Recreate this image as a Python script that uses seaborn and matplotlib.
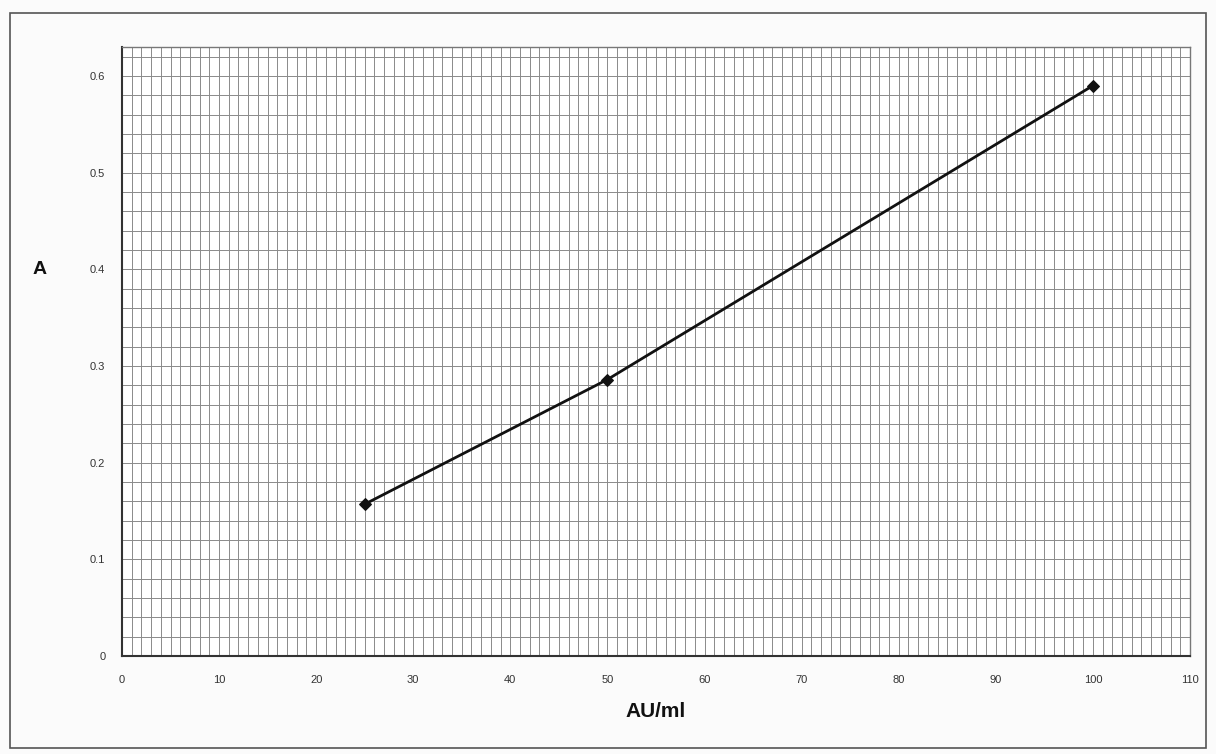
import matplotlib
matplotlib.use("Agg")
import matplotlib.pyplot as plt
import numpy as np
import pandas as pd
import seaborn as sns
from matplotlib.patches import Rectangle
from matplotlib.ticker import MultipleLocator

concentration = [25, 50, 100]
absorbance = [0.157, 0.286, 0.590]
x_ticks = list(range(0, 111, 10))
y_ticks = [0, 0.1, 0.2, 0.3, 0.4, 0.5, 0.6]

sns.set_style("white")
plt.rcParams["font.family"] = ["Liberation Sans", "DejaVu Sans"]

df = pd.DataFrame({"AU/ml": concentration, "A": absorbance})

fig = plt.figure(figsize=(12.16, 7.54), dpi=100)
fig.patch.set_facecolor("#fbfbfb")
fig.patches.append(Rectangle((0.008, 0.008), 0.984, 0.975, transform=fig.transFigure,
                             fill=False, edgecolor="#555555", linewidth=1.2))

ax = fig.add_axes([0.1003, 0.130, 0.8783, 0.8077])
ax.set_facecolor("white")
sns.lineplot(data=df, x="AU/ml", y="A", ax=ax, color="#111111", linewidth=2.0,
             marker="D", markersize=6, markeredgecolor="#111111")

ax.set_xlim(0, 110)
ax.set_ylim(0, 0.63)
ax.set_xticks(x_ticks)
ax.set_yticks(y_ticks)
ax.set_yticklabels(["0", "0.1", "0.2", "0.3", "0.4", "0.5", "0.6"])
ax.xaxis.set_minor_locator(MultipleLocator(1))
ax.yaxis.set_minor_locator(MultipleLocator(0.02))
ax.grid(which="both", color="#8a8a8a", linewidth=0.7)
ax.set_axisbelow(True)
ax.tick_params(axis="both", which="major", labelsize=8, colors="#333333", length=4, width=0.8)
ax.tick_params(axis="both", which="minor", length=0)
ax.tick_params(axis="x", pad=10)
ax.tick_params(axis="y", pad=8)

for side in ["top", "right"]:
    ax.spines[side].set_color("#777777")
    ax.spines[side].set_linewidth(1.0)
for side in ["left", "bottom"]:
    ax.spines[side].set_color("#333333")
    ax.spines[side].set_linewidth(1.5)

ax.set_xlabel("AU/ml", fontsize=15, fontweight="bold", color="#111111", labelpad=12)
ax.set_ylabel("")
fig.text(40 / 1216, 1 - 270 / 754, "A", fontsize=14, fontweight="bold",
         color="#111111", ha="center", va="center")

fig.savefig("out.png", dpi=100, facecolor=fig.get_facecolor())
